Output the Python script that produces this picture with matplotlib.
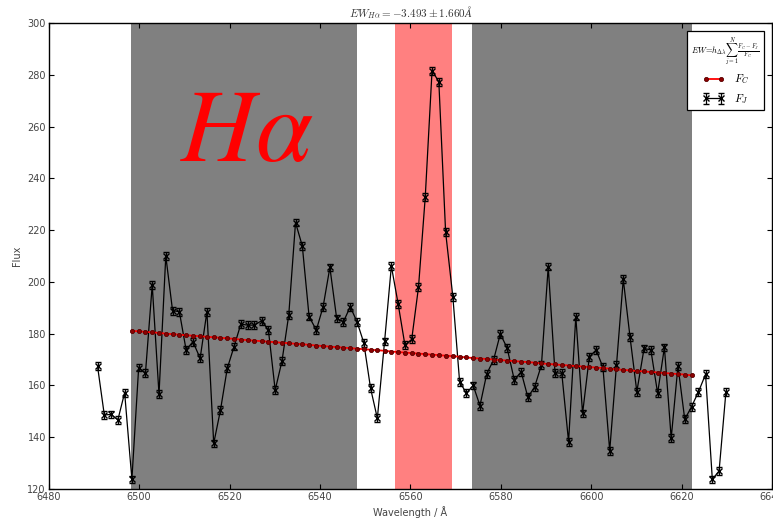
import matplotlib
matplotlib.use("Agg")
import matplotlib.pyplot as plt

# ---- data ----
wavelength = [6490.8, 6492.3, 6493.8, 6495.3, 6496.8, 6498.4, 6499.9, 6501.4, 6502.9, 6504.4,
              6505.9, 6507.4, 6508.9, 6510.4, 6511.9, 6513.5, 6515.0, 6516.5, 6518.0, 6519.5,
              6521.0, 6522.5, 6524.0, 6525.5, 6527.1, 6528.6, 6530.1, 6531.6, 6533.1, 6534.6,
              6536.1, 6537.6, 6539.2, 6540.7, 6542.2, 6543.7, 6545.2, 6546.7, 6548.2, 6549.7,
              6551.2, 6552.7, 6554.3, 6555.8, 6557.3, 6558.8, 6560.3, 6561.8, 6563.3, 6564.8,
              6566.3, 6567.8, 6569.4, 6570.9, 6572.4, 6573.9, 6575.4, 6576.9, 6578.4, 6579.9,
              6581.4, 6583.0, 6584.5, 6586.0, 6587.5, 6589.0, 6590.5, 6592.0, 6593.5, 6595.0,
              6596.6, 6598.1, 6599.6, 6601.1, 6602.6, 6604.1, 6605.6, 6607.1, 6608.6, 6610.1,
              6611.7, 6613.2, 6614.7, 6616.2, 6617.7, 6619.2, 6620.7, 6622.2, 6623.7, 6625.3,
              6626.8, 6628.3, 6629.8]

flux = [167.5, 148.6, 148.8, 146.7, 157.2, 123.7, 166.9, 164.7, 198.8, 156.6,
        210.0, 188.9, 188.5, 173.7, 176.9, 170.5, 188.5, 137.6, 150.5, 166.6,
        175.0, 183.7, 183.3, 183.3, 185.0, 181.4, 158.2, 169.4, 187.2, 222.9,
        213.9, 186.6, 181.4, 190.4, 205.6, 185.9, 184.6, 190.4, 184.6, 176.5,
        158.9, 147.3, 177.0, 206.1, 191.5, 175.6, 177.8, 197.9, 232.9, 281.6,
        277.3, 219.2, 194.3, 161.4, 157.0, 160.0, 152.2, 164.5, 169.8, 179.9,
        174.5, 162.1, 165.3, 155.4, 159.5, 167.9, 205.9, 164.9, 164.7, 138.3,
        186.6, 149.2, 171.1, 173.7, 167.0, 134.8, 167.9, 201.0, 178.6, 157.6,
        174.3, 173.7, 157.0, 174.7, 139.6, 167.5, 146.9, 151.8, 157.4, 164.3,
        123.7, 127.0, 157.4]

flux_err = [1.5] * len(flux)

# continuum F_C, evaluated at pixels 5..87
cont_wavelength = wavelength[5:88]
continuum = [181.1, 180.9, 180.7, 180.5, 180.3, 180.0, 179.8, 179.6, 179.4, 179.2,
             179.0, 178.8, 178.6, 178.4, 178.2, 178.0, 177.7, 177.5, 177.3, 177.1,
             176.9, 176.7, 176.5, 176.3, 176.1, 175.9, 175.7, 175.4, 175.2, 175.0,
             174.8, 174.6, 174.4, 174.2, 174.0, 173.8, 173.6, 173.4, 173.1, 172.9,
             172.7, 172.5, 172.3, 172.1, 171.9, 171.7, 171.5, 171.3, 171.1, 170.8,
             170.6, 170.4, 170.2, 170.0, 169.8, 169.6, 169.4, 169.2, 169.0, 168.8,
             168.5, 168.3, 168.1, 167.9, 167.7, 167.5, 167.3, 167.1, 166.9, 166.7,
             166.5, 166.2, 166.0, 165.8, 165.6, 165.4, 165.2, 165.0, 164.8, 164.6,
             164.4, 164.2, 163.9]

continuum_windows = [(6498.2, 6548.2), (6573.6, 6622.3)]
line_window = (6556.7, 6569.2)

title_text = r"$EW_{H\alpha}=-3.493\pm1.660\AA$"
legend_title = r"$EW\!=\!h_{\Delta\lambda}\sum_{j=1}^{N}\frac{F_C-F_J}{F_C}$"

# ---- figure ----
fig = plt.figure(figsize=(7.73, 5.22), dpi=100)
ax = fig.add_axes([48.7 / 773, 33 / 522, (772 - 48.7) / 773, 466 / 522])

for lo, hi in continuum_windows:
    ax.axvspan(lo, hi, color="#808080", lw=0, zorder=0)
ax.axvspan(line_window[0], line_window[1], color="#ff8080", lw=0, zorder=0)

ax.errorbar(wavelength, flux, yerr=flux_err, color="black", lw=0.9,
            marker="x", ms=5, mew=1.0, capsize=2, elinewidth=0.9,
            label=r"$F_J$", zorder=2)
ax.plot(cont_wavelength, continuum, color="red", lw=1.3, marker="o", ms=3,
        mfc="#8b0000", mec="#5a0000", mew=0.6, label=r"$F_C$", zorder=3)

ax.text(0.182, 0.704, r"$H\alpha$", transform=ax.transAxes, color="red",
        fontsize=74, ha="left", va="baseline", math_fontfamily="stix")

ax.set_xlim(6480, 6640)
ax.set_ylim(120, 300)
ax.set_xticks(range(6480, 6641, 20))
ax.set_yticks(range(120, 301, 20))
ax.tick_params(direction="in", top=True, right=True, length=3.5, width=0.8,
               labelsize=7, labelcolor="#444444", pad=2)
for s in ax.spines.values():
    s.set_linewidth(1.0)

ax.set_xlabel("Wavelength / Å", fontsize=7, color="#444444", labelpad=3)
ax.set_ylabel("Flux", fontsize=7, color="#444444", labelpad=4)
ax.set_title(title_text, fontsize=8, color="#333333", pad=4, math_fontfamily="cm")

handles, labels = ax.get_legend_handles_labels()
order = [labels.index(r"$F_C$"), labels.index(r"$F_J$")]
leg = ax.legend([handles[i] for i in order], [labels[i] for i in order],
                loc="upper right", fontsize=8,
                title=legend_title, title_fontsize=6, numpoints=2,
                handlelength=2.0, borderaxespad=0.7, fancybox=False,
                framealpha=1, edgecolor="black", prop={"size": 8, "math_fontfamily": "cm"})
leg.get_frame().set_linewidth(0.9)
leg.get_title().set_math_fontfamily("cm")

fig.savefig("out.png", dpi=100)
